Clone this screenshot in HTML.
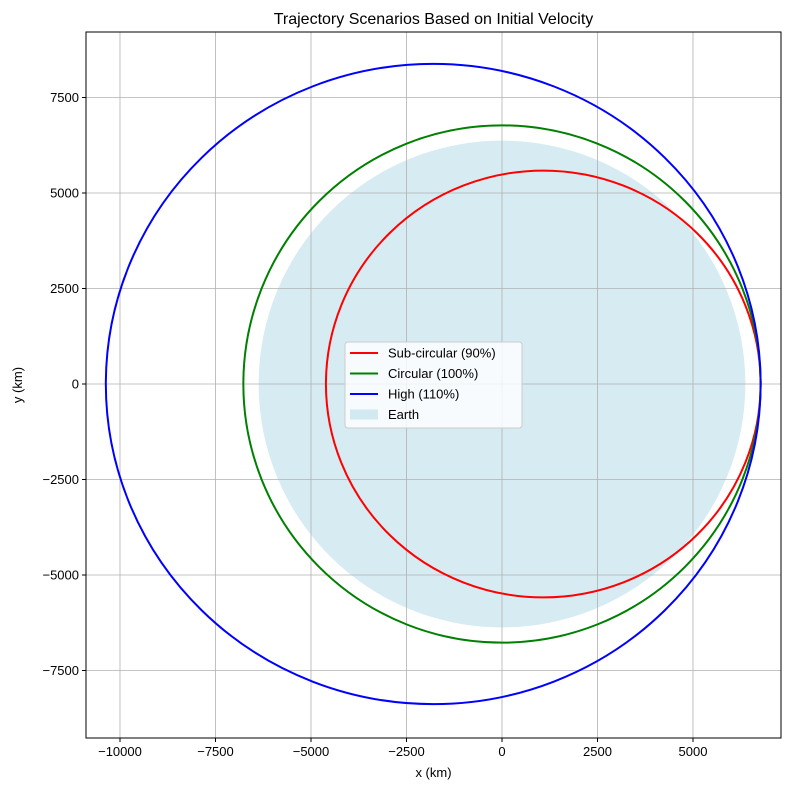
<!DOCTYPE html>
<html><head><meta charset="utf-8"><style>
body{margin:0;background:#fff;}
svg{display:block;font-family:"Liberation Sans","DejaVu Sans",sans-serif;}
</style></head><body>
<svg id="chart" width="790" height="790"></svg>
<script>
const xTicks=[-10000,-7500,-5000,-2500,0,2500,5000];
const yTicks=[-7500,-5000,-2500,0,2500,5000,7500];
const seriesNames=["Sub-circular (90%)","Circular (100%)","High (110%)"];
const seriesColors=["red","green","blue"];
const centerX=[1081,0,-1800];
const semiMajor=[5690,6771,8571];
const semiMinor=[5586,6771,8380];
const earthRadius=6371;
const xMin=-10890,xMax=7304,yMin=-9267,yMax=9215;
const L=86,R=781,T=32,B=738;
const sx=v=>L+(v-xMin)/(xMax-xMin)*(R-L);
const sy=v=>B-(v-yMin)/(yMax-yMin)*(B-T);
const NS="http://www.w3.org/2000/svg";
const svg=document.getElementById('chart');
function mk(tag,attrs,parent){const e=document.createElementNS(NS,tag);for(const k in attrs)e.setAttribute(k,attrs[k]);(parent||svg).appendChild(e);return e;}
const defs=mk('defs',{});const cp=mk('clipPath',{id:'clip'},defs);mk('rect',{x:L,y:T,width:R-L,height:B-T},cp);
const plot=mk('g',{'clip-path':'url(#clip)'});


const earth=mk('ellipse',{cx:sx(0),cy:sy(0),rx:sx(earthRadius)-sx(0),ry:sy(0)-sy(earthRadius),fill:'#add8e6','fill-opacity':0.5},plot);


xTicks.forEach(t=>{const l=mk('line',{x1:sx(t),x2:sx(t),y1:T,y2:B,stroke:'#b0b0b0','stroke-width':0.8},plot);

});
yTicks.forEach(t=>{const l=mk('line',{x1:L,x2:R,y1:sy(t),y2:sy(t),stroke:'#b0b0b0','stroke-width':0.8},plot);

});
seriesNames.forEach((n,i)=>{const e=mk('ellipse',{cx:sx(centerX[i]),cy:sy(0),rx:sx(semiMajor[i])-sx(0),ry:sy(0)-sy(semiMinor[i]),fill:'none',stroke:seriesColors[i],'stroke-width':2},plot);

});
const frame=mk('rect',{x:L,y:T,width:R-L,height:B-T,fill:'none',stroke:'#000','stroke-width':1});


xTicks.forEach(t=>{mk('line',{x1:sx(t),x2:sx(t),y1:B,y2:B+4,stroke:'#000'});
const tx=mk('text',{x:sx(t),y:B+18,'text-anchor':'middle','font-size':13});tx.textContent=t<0?'\u2212'+(-t):t;

});
yTicks.forEach(t=>{mk('line',{x1:L-4,x2:L,y1:sy(t),y2:sy(t),stroke:'#000'});
const tx=mk('text',{x:L-7,y:sy(t)+4.5,'text-anchor':'end','font-size':13});tx.textContent=t<0?'\u2212'+(-t):t;

});
const title=mk('text',{x:(L+R)/2,y:24,'text-anchor':'middle','font-size':16});title.textContent='Trajectory Scenarios Based on Initial Velocity';


const xl=mk('text',{x:(L+R)/2,y:777,'text-anchor':'middle','font-size':13});xl.textContent='x (km)';


const yl=mk('text',{x:22,y:(T+B)/2,'text-anchor':'middle','font-size':13,transform:'rotate(-90 22 '+((T+B)/2)+')'});yl.textContent='y (km)';


const lg=mk('g',{});


mk('rect',{x:345,y:342,width:177,height:86,rx:3,fill:'#fff','fill-opacity':0.8,stroke:'#ccc'},lg);
const labels=seriesNames.concat(['Earth']);
labels.forEach((n,i)=>{const y=353+i*20.5;
if(i<3)mk('line',{x1:350,x2:378,y1:y,y2:y,stroke:seriesColors[i],'stroke-width':2},lg);
else mk('rect',{x:350,y:y-5,width:28,height:10,fill:'#add8e6','fill-opacity':0.5},lg);
const t=mk('text',{x:388,y:y+4.5,'font-size':13},lg);t.textContent=n;

});
</script>
</body></html>
